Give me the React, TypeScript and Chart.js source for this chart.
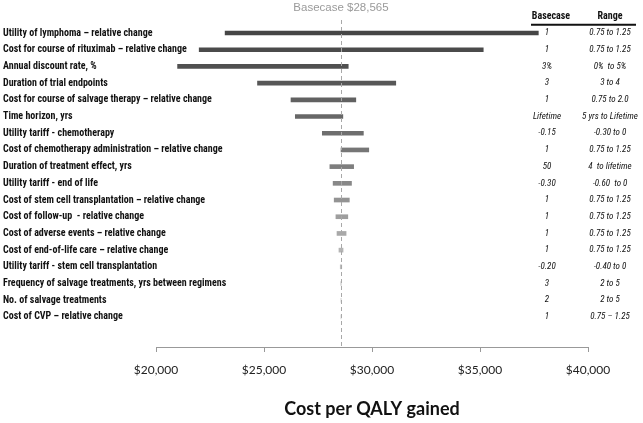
import React, { useEffect, useRef } from "react";
import { Chart, registerables } from "chart.js";

Chart.register(...registerables);

const categories = [
  "Utility of lymphoma – relative change",
  "Cost for course of rituximab – relative change",
  "Annual discount rate, %",
  "Duration of trial endpoints",
  "Cost for course of salvage therapy – relative change",
  "Time horizon, yrs",
  "Utility tariff - chemotherapy",
  "Cost of chemotherapy administration – relative change",
  "Duration of treatment effect, yrs",
  "Utility tariff - end of life",
  "Cost of stem cell transplantation – relative change",
  "Cost of follow-up  - relative change",
  "Cost of adverse events – relative change",
  "Cost of end-of-life care – relative change",
  "Utility tariff - stem cell transplantation",
  "Frequency of salvage treatments, yrs between regimens",
  "No. of salvage treatments",
  "Cost of CVP – relative change",
];

const lowValues = [23200, 22000, 21000, 24700, 26250, 26450, 27700, 28565, 28050, 28200, 28250, 28330, 28380, 28470, 28530, 28555, 28560, 28560];
const highValues = [37700, 35150, 28900, 31100, 29250, 28650, 29600, 29850, 29150, 29050, 28950, 28880, 28800, 28660, 28600, 28575, 28570, 28570];

const basecaseValues = ["1", "1", "3%", "3", "1", "Lifetime", "-0.15", "1", "50", "-0.30", "1", "1", "1", "1", "-0.20", "3", "2", "1"];
const rangeValues = [
  "0.75 to 1.25", "0.75 to 1.25", "0%  to 5%", "3 to 4", "0.75 to 2.0", "5 yrs to Lifetime",
  "-0.30 to 0", "0.75 to 1.25", "4  to lifetime", "-0.60  to 0", "0.75 to 1.25", "0.75 to 1.25",
  "0.75 to 1.25", "0.75 to 1.25", "-0.40 to 0", "2 to 5", "2 to 5", "0.75 – 1.25",
];

const barColors = [
  "#464646", "#4b4b4b", "#505050", "#575757", "#616161", "#676767", "#6e6e6e", "#767676",
  "#7e7e7e", "#888888", "#939393", "#9e9e9e", "#a9a9a9", "#b4b4b4", "#bebebe", "#c6c6c6",
  "#cccccc", "#d0d0d0",
];

const xTicks = [20000, 25000, 30000, 35000, 40000];
const basecase = 28565;

const LABEL_FONT = "'Roboto Condensed', 'Liberation Sans', sans-serif";

const overlayPlugin = {
  id: "tornadoOverlay",
  afterDatasetsDraw(chart: any) {
    const { ctx, chartArea, scales } = chart;
    const xs = scales.x;
    const ys = scales.y;
    const bx = xs.getPixelForValue(basecase);
    ctx.save();
    ctx.strokeStyle = "#a8a8a8";
    ctx.lineWidth = 1;
    ctx.setLineDash([4, 3]);
    ctx.beginPath();
    ctx.moveTo(Math.round(bx) + 0.5, chartArea.top);
    ctx.lineTo(Math.round(bx) + 0.5, chartArea.bottom);
    ctx.stroke();
    ctx.setLineDash([]);
    ctx.fillStyle = "#9a9a9a";
    ctx.font = "11.5px 'Liberation Sans', sans-serif";
    ctx.textAlign = "center";
    ctx.textBaseline = "middle";
    ctx.fillText("Basecase $" + basecase.toLocaleString("en-US"), bx, 8);

    const colBase = 547;
    const colRange = 610;
    ctx.fillStyle = "#111";
    ctx.font = "bold 10px " + LABEL_FONT;
    const hy = ys.getPixelForValue(-1);
    ctx.fillText("Basecase", 551, hy);
    ctx.fillText("Range", 610, hy);
    const ly = ys.getPixelForValue(-0.5);
    ctx.strokeStyle = "#111";
    ctx.lineWidth = 2;
    ctx.beginPath();
    ctx.moveTo(531, ly);
    ctx.lineTo(636, ly);
    ctx.stroke();

    ctx.font = "italic 9px " + LABEL_FONT;
    for (let i = 0; i < categories.length; i++) {
      const y = ys.getPixelForValue(i);
      ctx.fillText(basecaseValues[i], colBase, y);
      ctx.fillText(rangeValues[i], colRange, y);
    }
    ctx.restore();
  },
};

export default function App() {
  const ref = useRef<HTMLCanvasElement>(null);
  useEffect(() => {
    const canvas = ref.current;
    if (!canvas) return;
    const chart = new Chart(canvas, {
      type: "bar",
      data: {
        datasets: [
          {
            data: categories.map((_, i) => ({ x: [lowValues[i], highValues[i]], y: i })) as any,
            backgroundColor: barColors,
            borderWidth: 0,
            barThickness: 4,
          },
        ],
      },
      options: {
        indexAxis: "y",
        responsive: false,
        animation: false,
        layout: { padding: { left: 3, right: 55, top: 20, bottom: 0 } },
        plugins: { legend: { display: false }, tooltip: { enabled: false } },
        scales: {
          x: {
            type: "linear",
            min: 20000,
            max: 40000,
            afterBuildTicks: (axis: any) => {
              axis.ticks = xTicks.map((v) => ({ value: v }));
            },
            afterFit: (axis: any) => {
              axis.height = 76;
            },
            grid: { drawOnChartArea: false, drawTicks: true, tickLength: 5, color: "#999" },
            border: { display: true, color: "#999" },
            ticks: {
              padding: 11,
              color: "#222",
              font: { family: "Lato, 'Liberation Sans', sans-serif", size: 12 },
              callback: (v: any) => "$" + Number(v).toLocaleString("en-US"),
            },
            title: {
              display: true,
              text: "Cost per QALY gained",
              color: "#111",
              font: { family: "Lato, 'Liberation Sans', sans-serif", size: 18, weight: "bold" },
              padding: { top: 0, bottom: 3 },
            },
          },
          y: {
            type: "linear",
            reverse: true,
            offset: false,
            min: -0.78,
            max: 18.8,
            afterBuildTicks: (axis: any) => {
              axis.ticks = categories.map((_, i) => ({ value: i }));
            },
            afterFit: (axis: any) => {
              axis.width = 153;
              axis.paddingTop = 0;
              axis.paddingBottom = 0;
            },
            grid: { display: false },
            border: { display: false },
            ticks: {
              mirror: true,
              crossAlign: "near",
              padding: -153,
              color: "#111",
              autoSkip: false,
              font: { family: LABEL_FONT, size: 10, weight: "bold" },
              callback: (v: any) => categories[v] ?? "",
            },
          },
        },
      },
      plugins: [overlayPlugin],
    });
    return () => chart.destroy();
  }, []);
  return (
    <div style={{ position: "fixed", left: 0, top: 0, width: 643, height: 423, background: "#fff" }}>
      <canvas ref={ref} width={643} height={423} style={{ display: "block" }} />
    </div>
  );
}
